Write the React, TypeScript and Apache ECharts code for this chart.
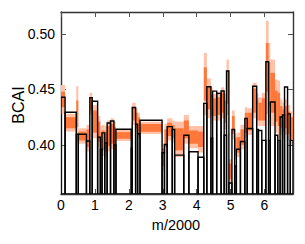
import React, { useEffect, useRef } from "react";
import * as echarts from "echarts";

// bin edges along m/2000
const binEdges = [
  0.0, 0.12, 0.45, 0.51, 0.75, 0.85, 0.92, 1.08, 1.16, 1.21, 1.29, 1.36, 1.46, 1.56, 1.62,
  2.07, 2.1, 2.2, 2.26, 2.33, 2.98, 3.05, 3.13, 3.28, 3.35, 3.62, 3.77, 4.04, 4.21, 4.3,
  4.42, 4.47, 4.59, 4.72, 4.81, 4.88, 4.95, 5.04, 5.12, 5.17, 5.29, 5.42, 5.49, 5.65, 5.77,
  5.82, 5.92, 6.04, 6.12, 6.17, 6.31, 6.39, 6.46, 6.53, 6.59, 6.68, 6.76, 6.84,
];
// observed BCAI per bin (black outlines)
const bcaiObserved = [
  0.443, 0.4294, 0.4096, 0.4096, 0.4035, 0.4427, 0.4394, 0.407, 0.396, 0.4108, 0.4018, 0.4198,
  0.4216, 0.3998, 0.4141, 0.397, 0.4337, 0.4186, 0.41, 0.4222, 0.3928, 0.4003, 0.4165, 0.4138,
  0.3907, 0.4087, 0.3937, 0.3888, 0.4375, 0.4525, 0.406, 0.4485, 0.4465, 0.4487, 0.4087,
  0.4667, 0.3655, 0.4139, 0.381, 0.396, 0.403, 0.4238, 0.4148, 0.4529, 0.414, 0.413, 0.404,
  0.475, 0.404, 0.4387, 0.4087, 0.404, 0.4252, 0.427, 0.4523, 0.428, 0.404,
];
// model estimate per bin (orange bands)
const fitMean = [
  0.441, 0.42, 0.428, 0.408, 0.406, 0.437, 0.421, 0.412, 0.403, 0.404, 0.403, 0.408, 0.41,
  0.408, 0.4085, 0.41, 0.428, 0.422, 0.418, 0.4153, 0.389, 0.406, 0.414, 0.412, 0.405, 0.414,
  0.407, 0.405, 0.455, 0.442, 0.436, 0.434, 0.435, 0.438, 0.43, 0.452, 0.376, 0.418, 0.398,
  0.4, 0.407, 0.42, 0.421, 0.44, 0.432, 0.43, 0.432, 0.47, 0.455, 0.447, 0.435, 0.432, 0.425,
  0.422, 0.425, 0.42, 0.415,
];
const fitInner = [
  0.007, 0.005, 0.012, 0.004, 0.008, 0.006, 0.01, 0.009, 0.009, 0.009, 0.009, 0.009, 0.009,
  0.008, 0.003, 0.006, 0.006, 0.007, 0.007, 0.0035, 0.008, 0.008, 0.006, 0.006, 0.01, 0.008,
  0.006, 0.007, 0.015, 0.01, 0.01, 0.008, 0.008, 0.009, 0.01, 0.015, 0.007, 0.008, 0.008,
  0.007, 0.007, 0.009, 0.008, 0.011, 0.01, 0.008, 0.01, 0.022, 0.02, 0.018, 0.014, 0.015,
  0.01, 0.01, 0.01, 0.01, 0.01,
];
const fitOuter = [
  0.013, 0.008, 0.025, 0.007, 0.012, 0.01, 0.015, 0.014, 0.014, 0.014, 0.014, 0.014, 0.014,
  0.013, 0.005, 0.01, 0.01, 0.011, 0.011, 0.0055, 0.012, 0.013, 0.01, 0.01, 0.016, 0.013, 0.01,
  0.012, 0.028, 0.018, 0.016, 0.012, 0.013, 0.014, 0.016, 0.025, 0.011, 0.013, 0.012, 0.011,
  0.011, 0.014, 0.012, 0.016, 0.015, 0.013, 0.015, 0.042, 0.037, 0.03, 0.024, 0.026, 0.016,
  0.016, 0.016, 0.016, 0.015,
];
const xTicks = [0, 1, 2, 3, 4, 5, 6];
const yTicks = [0.4, 0.45, 0.5];

const X_MIN = 0;
const X_MAX = 6.84;
const Y_MIN = 0.3556;
const Y_MAX = 0.52;
const FONT = "Liberation Sans, Arial, Helvetica, sans-serif";

export default function App() {
  const ref = useRef<HTMLDivElement>(null);
  useEffect(() => {
    if (!ref.current) return;
    const chart = echarts.init(ref.current, undefined, { renderer: "svg" });
    const data = bcaiObserved.map((v, i) => [
      binEdges[i],
      binEdges[i + 1],
      v,
      fitMean[i],
      fitInner[i],
      fitOuter[i],
    ]);
    const band = (which: number, color: string) => (params: any, api: any) => {
      const x0 = api.value(0);
      const x1 = api.value(1);
      const m = api.value(3);
      const h = api.value(which);
      const p0 = api.coord([x0, m + h]);
      const p1 = api.coord([x1, m - h]);
      return {
        type: "rect",
        shape: { x: p0[0], y: p0[1], width: p1[0] - p0[0], height: p1[1] - p0[1] },
        style: { fill: color },
      };
    };
    const axisLineStyle = { color: "#333", width: 1.4 };
    const tickStyle = { color: "#555", width: 1 };
    chart.setOption({
      animation: false,
      grid: { left: 61, right: 12, top: 12, bottom: 50 },
      xAxis: [
        {
          type: "value",
          min: X_MIN,
          max: X_MAX,
          position: "bottom",
          axisLine: { show: true, onZero: false, lineStyle: axisLineStyle },
          axisTick: { show: true, inside: true, length: 5, lineStyle: tickStyle, customValues: xTicks },
          axisLabel: {
            customValues: xTicks,
            fontSize: 14,
            color: "#000",
            fontFamily: FONT,
            margin: 4,
          },
          splitLine: { show: false },
        },
        {
          type: "value",
          min: X_MIN,
          max: X_MAX,
          position: "top",
          axisLine: { show: true, onZero: false, lineStyle: axisLineStyle },
          axisTick: { show: true, inside: true, length: 5, lineStyle: tickStyle, customValues: xTicks },
          axisLabel: { show: false },
          splitLine: { show: false },
        },
      ],
      yAxis: [
        {
          type: "value",
          min: Y_MIN,
          max: Y_MAX,
          position: "left",
          axisLine: { show: true, onZero: false, lineStyle: axisLineStyle },
          axisTick: { show: true, inside: true, length: 5, lineStyle: tickStyle, customValues: yTicks },
          axisLabel: {
            customValues: yTicks,
            formatter: (v: number) => v.toFixed(2),
            fontSize: 14,
            color: "#000",
            fontFamily: FONT,
            margin: 6,
          },
          splitLine: { show: false },
        },
        {
          type: "value",
          min: Y_MIN,
          max: Y_MAX,
          position: "right",
          axisLine: { show: true, onZero: false, lineStyle: axisLineStyle },
          axisTick: { show: true, inside: true, length: 5, lineStyle: tickStyle, customValues: yTicks },
          axisLabel: { show: false },
          splitLine: { show: false },
        },
      ],
      graphic: [
        {
          type: "text",
          x: 176,
          y: 225,
          style: {
            text: "m/2000",
            x: 0,
            y: 0,
            align: "center",
            verticalAlign: "middle",
            fontSize: 14.5,
            fontFamily: FONT,
            fill: "#000",
          },
        },
        {
          type: "text",
          x: 18,
          y: 105,
          rotation: Math.PI / 2,
          style: {
            text: "BCAI",
            x: 0,
            y: 0,
            align: "center",
            verticalAlign: "middle",
            fontSize: 16,
            fontFamily: FONT,
            fill: "#000",
          },
        },
      ],
      series: [
        {
          type: "custom",
          xAxisIndex: 0,
          yAxisIndex: 0,
          clip: true,
          data,
          renderItem: band(5, "#ffc2a8"),
        },
        {
          type: "custom",
          xAxisIndex: 0,
          yAxisIndex: 0,
          clip: true,
          data,
          renderItem: band(4, "#ff773a"),
        },
        {
          type: "custom",
          xAxisIndex: 0,
          yAxisIndex: 0,
          clip: true,
          data,
          renderItem: (params: any, api: any) => {
            const p0 = api.coord([api.value(0), api.value(2)]);
            const p1 = api.coord([api.value(1), Y_MIN]);
            return {
              type: "rect",
              shape: { x: p0[0], y: p0[1], width: p1[0] - p0[0], height: p1[1] - p0[1] },
              style: { fill: "none", stroke: "#000", lineWidth: 1.4 },
            };
          },
        },
      ],
    });
    return () => chart.dispose();
  }, []);
  return (
    <div
      ref={ref}
      style={{ position: "fixed", left: 0, top: 0, width: 305, height: 244, background: "#fff" }}
    />
  );
}
